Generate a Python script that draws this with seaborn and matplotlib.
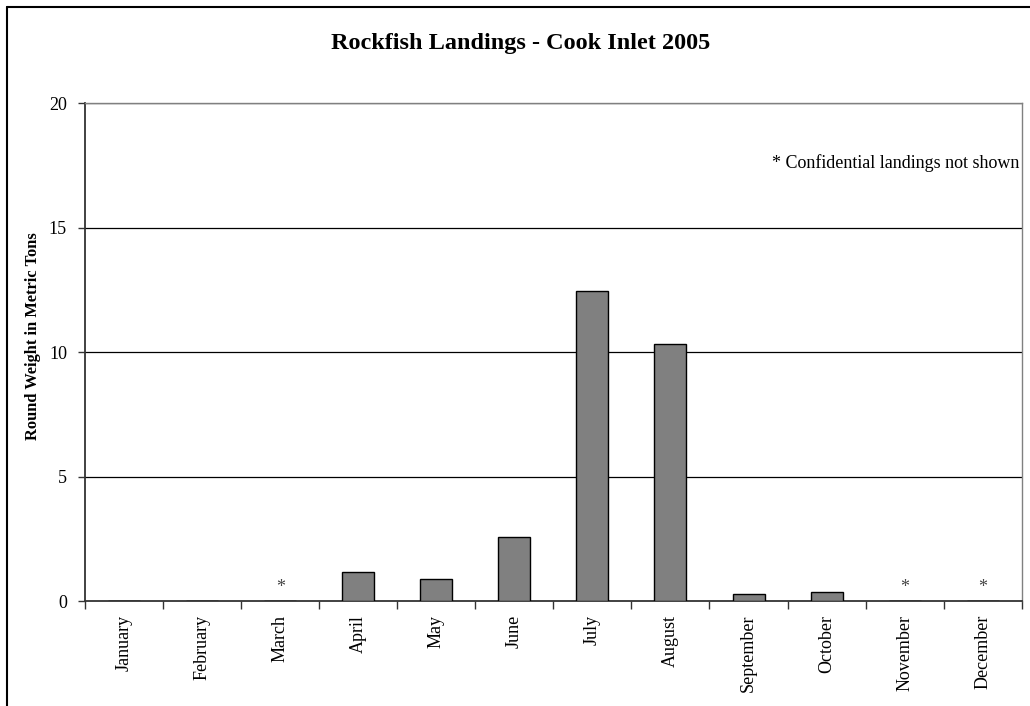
import seaborn as sns
import pandas as pd
import matplotlib.pyplot as plt
from matplotlib.lines import Line2D

# Data
months = ['January', 'February', 'March', 'April', 'May', 'June',
          'July', 'August', 'September', 'October', 'November', 'December']
weights = [0, 0, 0, 1.18, 0.88, 2.56, 12.46, 10.31, 0.27, 0.35, 0, 0]
confidential = ['March', 'November', 'December']
y_ticks = [0, 5, 10, 15, 20]

df = pd.DataFrame({'month': months, 'weight': weights})

sns.set_style('white')
plt.rcParams['font.family'] = ['Liberation Serif', 'DejaVu Serif']
plt.rcParams['text.color'] = 'black'
plt.rcParams['xtick.color'] = 'black'
plt.rcParams['ytick.color'] = 'black'
plt.rcParams['axes.labelcolor'] = 'black'

fig = plt.figure(figsize=(10.3, 7.06), dpi=100)
ax = fig.add_axes([0.0825, 0.1487, 0.9095, 0.7053])

sns.barplot(data=df, x='month', y='weight', order=months, color='#808080',
            width=0.41, edgecolor='black', linewidth=1.0, saturation=1, ax=ax, zorder=3)

ax.set_ylim(0, 20)
ax.set_xlim(-0.5, len(months) - 0.5)
ax.set_yticks(y_ticks)
ax.set_yticklabels([str(t) for t in y_ticks], fontsize=13)
for t in y_ticks[1:]:
    ax.axhline(t, color='black', linewidth=0.9, zorder=1)

# category boundary ticks
ax.set_xticks(range(len(months)))
ax.set_xticklabels(months, rotation=90, fontsize=13)
ax.tick_params(axis='x', length=0, pad=10)
ax.set_xticks([i - 0.5 for i in range(len(months) + 1)], minor=True)
ax.tick_params(axis='x', which='minor', length=6, width=1, color='#333333', direction='out', bottom=True)
ax.tick_params(axis='y', length=5, width=1, color='#333333', direction='out', left=True, pad=8)

for side in ['left', 'bottom']:
    ax.spines[side].set_color('#333333')
    ax.spines[side].set_linewidth(1.3)
for side in ['top', 'right']:
    ax.spines[side].set_color('#808080')
    ax.spines[side].set_linewidth(1.0)

ax.set_xlabel('')
ax.set_ylabel('Round Weight in Metric Tons', fontsize=11.8, fontweight='bold')
ax.yaxis.set_label_coords(-0.047, 0.532)

for m in confidential:
    ax.text(months.index(m), 0.55, '*', ha='center', va='center', fontsize=13, color='#444444')

ax.text(0.9975, 0.88, '* Confidential landings not shown', transform=ax.transAxes,
        ha='right', va='center', fontsize=13)

fig.text(0.505, 0.938, 'Rockfish Landings - Cook Inlet 2005', ha='center', va='center',
         fontsize=17.5, fontweight='bold')

# outer chart border (left and top visible)
fig.add_artist(Line2D([0.007, 0.007], [0, 0.99], transform=fig.transFigure, color='black', linewidth=1.5))
fig.add_artist(Line2D([0.007, 1.0], [0.99, 0.99], transform=fig.transFigure, color='black', linewidth=1.5))

fig.savefig('out.png', dpi=100)
